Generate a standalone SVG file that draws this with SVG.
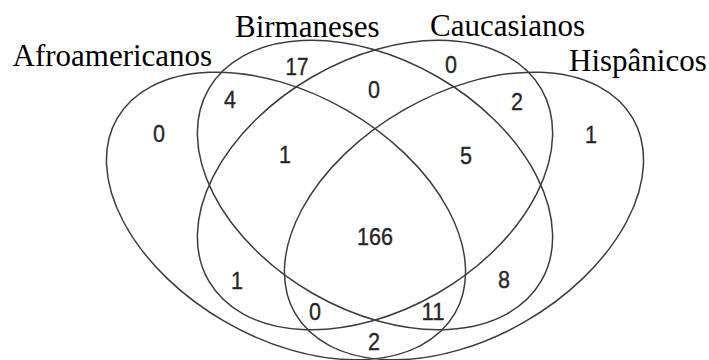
<svg xmlns="http://www.w3.org/2000/svg" width="709" height="360" viewBox="0 0 709 360">
<style>
.set{fill:none;stroke:#3c3c3c;stroke-width:1.5}
.lbl{font-family:"Liberation Serif","Times New Roman",serif;font-size:31px;fill:#000}
.bg{fill:#fff}
.n{font-family:"Liberation Sans",Arial,sans-serif;font-size:24px;fill:#262626;stroke:#262626;stroke-width:0.35;text-anchor:middle}
</style>
<rect width="709" height="360" fill="#fff"/>
<g id="sets">
<g id="set-afroamericanos"><ellipse class="set" cx="286" cy="216" rx="195" ry="122" transform="rotate(30 286 216)"/></g>
<g id="set-birmaneses"><ellipse class="set" cx="375" cy="185" rx="192" ry="125" transform="rotate(30 375 185)"/></g>
<g id="set-caucasianos"><ellipse class="set" cx="375" cy="185" rx="192" ry="125" transform="rotate(-30 375 185)"/></g>
<g id="set-hispanicos"><ellipse class="set" cx="464" cy="216" rx="195" ry="122" transform="rotate(-30 464 216)"/></g>
</g>
<g id="labels">
<g id="label-afroamericanos"><rect class="bg" x="8" y="40" width="211" height="29"/><text class="lbl" x="12.5" y="66">Afroamericanos</text></g>
<g id="label-birmaneses"><text class="lbl" x="235" y="37">Birmaneses</text></g>
<g id="label-caucasianos"><text class="lbl" x="430" y="36">Caucasianos</text></g>
<g id="label-hispanicos"><rect class="bg" x="546" y="42" width="163" height="28"/><text class="lbl" x="569" y="71">Hispânicos</text></g>
</g>
<g id="counts">
<text class="n" x="159" y="142" textLength="12" lengthAdjust="spacingAndGlyphs">0</text>
<text class="n" x="230" y="108" textLength="12" lengthAdjust="spacingAndGlyphs">4</text>
<text class="n" x="297" y="75" textLength="23" lengthAdjust="spacingAndGlyphs">17</text>
<text class="n" x="285" y="163" textLength="12" lengthAdjust="spacingAndGlyphs">1</text>
<text class="n" x="374" y="98" textLength="12" lengthAdjust="spacingAndGlyphs">0</text>
<text class="n" x="451" y="73" textLength="12" lengthAdjust="spacingAndGlyphs">0</text>
<text class="n" x="517" y="110" textLength="12" lengthAdjust="spacingAndGlyphs">2</text>
<text class="n" x="591" y="143" textLength="12" lengthAdjust="spacingAndGlyphs">1</text>
<text class="n" x="466" y="164" textLength="12" lengthAdjust="spacingAndGlyphs">5</text>
<text class="n" x="375" y="245" textLength="36" lengthAdjust="spacingAndGlyphs">166</text>
<text class="n" x="237" y="289" textLength="12" lengthAdjust="spacingAndGlyphs">1</text>
<text class="n" x="315" y="320" textLength="12" lengthAdjust="spacingAndGlyphs">0</text>
<text class="n" x="374" y="350" textLength="12" lengthAdjust="spacingAndGlyphs">2</text>
<text class="n" x="433" y="320" textLength="23" lengthAdjust="spacingAndGlyphs">11</text>
<text class="n" x="504" y="288" textLength="12" lengthAdjust="spacingAndGlyphs">8</text>
</g>
</svg>
